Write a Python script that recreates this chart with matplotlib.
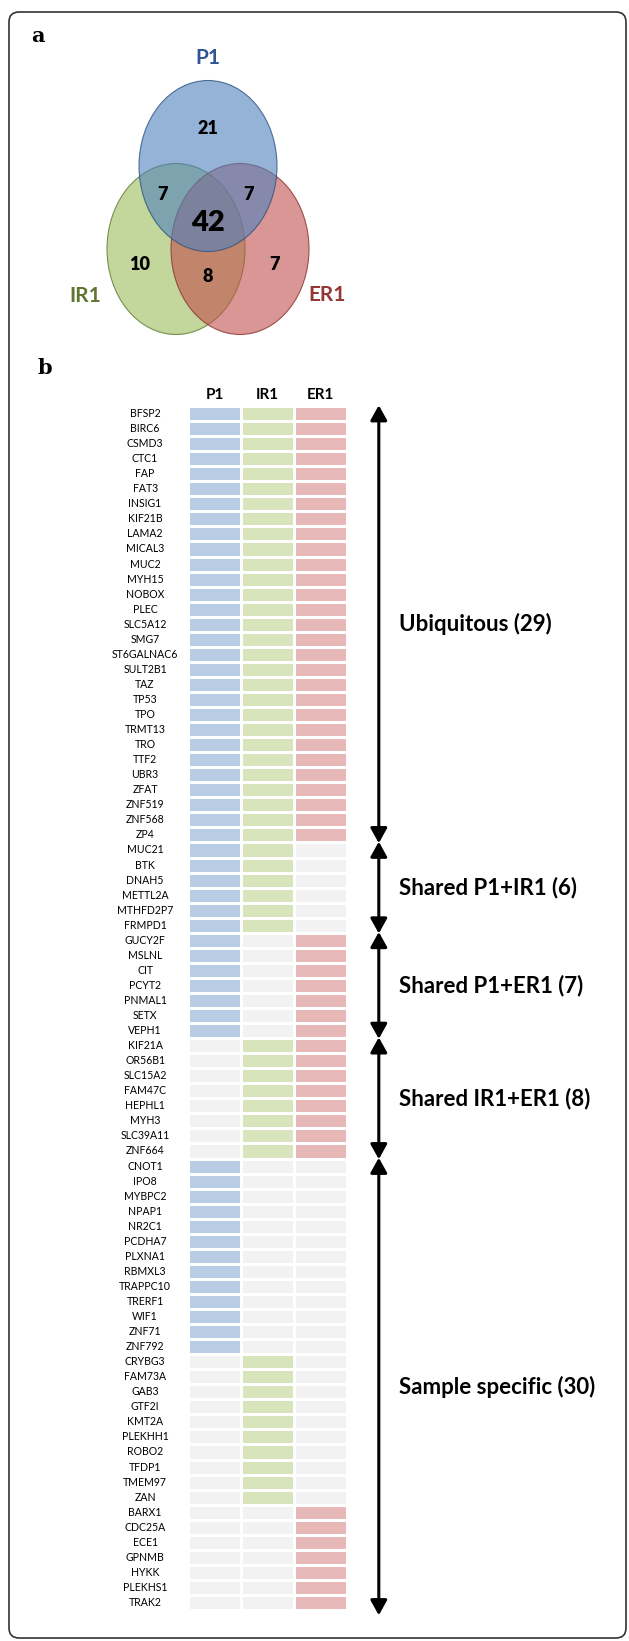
import numpy as np
import matplotlib.pyplot as plt
from matplotlib.patches import Ellipse, FancyBboxPatch
from matplotlib.colors import ListedColormap

# Venn: antal gener per område
venn_sets = ['P1', 'IR1', 'ER1']
venn_counts = {'P1': 21, 'IR1': 10, 'ER1': 7, 'P1+IR1': 7, 'P1+ER1': 7, 'IR1+ER1': 8, 'all': 42}

# Gengrupper för panel b
ubiquitous = ['BFSP2', 'BIRC6', 'CSMD3', 'CTC1', 'FAP', 'FAT3', 'INSIG1', 'KIF21B', 'LAMA2',
              'MICAL3', 'MUC2', 'MYH15', 'NOBOX', 'PLEC', 'SLC5A12', 'SMG7', 'ST6GALNAC6',
              'SULT2B1', 'TAZ', 'TP53', 'TPO', 'TRMT13', 'TRO', 'TTF2', 'UBR3', 'ZFAT',
              'ZNF519', 'ZNF568', 'ZP4']
shared_p1_ir1 = ['MUC21', 'BTK', 'DNAH5', 'METTL2A', 'MTHFD2P7', 'FRMPD1']
shared_p1_er1 = ['GUCY2F', 'MSLNL', 'CIT', 'PCYT2', 'PNMAL1', 'SETX', 'VEPH1']
shared_ir1_er1 = ['KIF21A', 'OR56B1', 'SLC15A2', 'FAM47C', 'HEPHL1', 'MYH3', 'SLC39A11', 'ZNF664']
specific_p1 = ['CNOT1', 'IPO8', 'MYBPC2', 'NPAP1', 'NR2C1', 'PCDHA7', 'PLXNA1', 'RBMXL3',
               'TRAPPC10', 'TRERF1', 'WIF1', 'ZNF71', 'ZNF792']
specific_ir1 = ['CRYBG3', 'FAM73A', 'GAB3', 'GTF2I', 'KMT2A', 'PLEKHH1', 'ROBO2', 'TFDP1',
                'TMEM97', 'ZAN']
specific_er1 = ['BARX1', 'CDC25A', 'ECE1', 'GPNMB', 'HYKK', 'PLEKHS1', 'TRAK2']

# (gener, närvaro i P1/IR1/ER1)
blocks = [(ubiquitous, (1, 1, 1)), (shared_p1_ir1, (1, 1, 0)), (shared_p1_er1, (1, 0, 1)),
          (shared_ir1_er1, (0, 1, 1)), (specific_p1, (1, 0, 0)), (specific_ir1, (0, 1, 0)),
          (specific_er1, (0, 0, 1))]
group_labels = ['Ubiquitous (29)', 'Shared P1+IR1 (6)', 'Shared P1+ER1 (7)',
                'Shared IR1+ER1 (8)', 'Sample specific (30)']
group_sizes = [29, 6, 7, 8, 30]

genes = []
rows = []
for names, pres in blocks:
    for g in names:
        genes.append(g)
        rows.append([(j + 1) * p for j, p in enumerate(pres)])
mat = np.array(rows)

W, H = 629, 1641
fig = plt.figure(figsize=(W / 100, H / 100), dpi=100)
font = 'Lato'

# Ram och panelbokstäver
bg = fig.add_axes([0, 0, 1, 1])
bg.set_xlim(0, W)
bg.set_ylim(H, 0)
bg.axis('off')
bg.add_patch(FancyBboxPatch((9, 12), 617, 1626, boxstyle='round,pad=0,rounding_size=10',
                            fc='none', ec='#333333', lw=1.2))
bg.text(38, 36, 'a', family='DejaVu Serif', fontweight='bold', fontsize=15, ha='center', va='center')
bg.text(45, 368, 'b', family='DejaVu Serif', fontweight='bold', fontsize=15, ha='center', va='center')

# Panel a: Venn-diagram
blue, green, red = '#4F81BD', '#9BBB59', '#C0504D'
for (cx, cy), fc, ec in [((176, 249), green, '#5d7a30'), ((240, 249), red, '#8a3330'),
                         ((208, 166), blue, '#2f5280')]:
    bg.add_patch(Ellipse((cx, cy), 138, 171, fc=fc, alpha=0.6, ec='none'))
    bg.add_patch(Ellipse((cx, cy), 138, 171, fc='none', ec=ec, lw=0.8, alpha=0.8))

bg.text(208, 58, 'P1', color='#2F5597', fontsize=15, fontweight='bold', family=font, ha='center', va='center')
bg.text(85, 296, 'IR1', color='#5F7530', fontsize=15, fontweight='bold', family=font, ha='center', va='center')
bg.text(327, 295, 'ER1', color='#953735', fontsize=15, fontweight='bold', family=font, ha='center', va='center')
num_pos = {'P1': (208, 128), 'P1+IR1': (162, 195), 'P1+ER1': (248, 194), 'all': (208, 223),
           'IR1': (140, 265), 'IR1+ER1': (208, 277), 'ER1': (275, 265)}
for k, (x, y) in num_pos.items():
    bg.text(x, y, str(venn_counts[k]), fontsize=21 if k == 'all' else 13, fontweight='heavy',
            family=font, ha='center', va='center')

# Panel b: närvaromatris
top, bottom, left, right = 406, 1610, 188, 347
ax = fig.add_axes([left / W, (H - bottom) / H, (right - left) / W, (bottom - top) / H])
cmap = ListedColormap(['#F2F2F2', '#B8CCE4', '#D8E4BC', '#E6B8B7'])
ax.pcolormesh(np.arange(4), np.arange(len(genes) + 1), mat, cmap=cmap, vmin=-0.5, vmax=3.5,
              edgecolors='white', linewidth=1.0)
ax.set_xlim(0, 3)
ax.set_ylim(len(genes), 0)
ax.axis('off')

for j, s in enumerate(venn_sets):
    ax.text(j + 0.5, -0.7, s, fontsize=11, fontweight='bold', family=font, ha='center', va='center')
for i, g in enumerate(genes):
    ax.text(-0.81, i + 0.5, g, fontsize=7.6, family=font, ha='center', va='center')

bounds = np.concatenate([[0], np.cumsum(group_sizes)])
for k, lab in enumerate(group_labels):
    y0, y1 = bounds[k], bounds[k + 1]
    if k == len(group_labels) - 1:
        y1 += 0.3
    ax.annotate('', xy=(3.6, y0 - 0.05), xytext=(3.6, y1 + 0.05), annotation_clip=False,
                arrowprops=dict(arrowstyle='<|-|>,head_length=0.9,head_width=0.5', lw=2.2,
                                color='black', mutation_scale=10, shrinkA=0, shrinkB=0))
    ax.text(3.99, (y0 + y1) / 2, lab, fontsize=16, fontweight='bold', family=font,
            ha='left', va='center')

fig.savefig('out.png', dpi=100)
